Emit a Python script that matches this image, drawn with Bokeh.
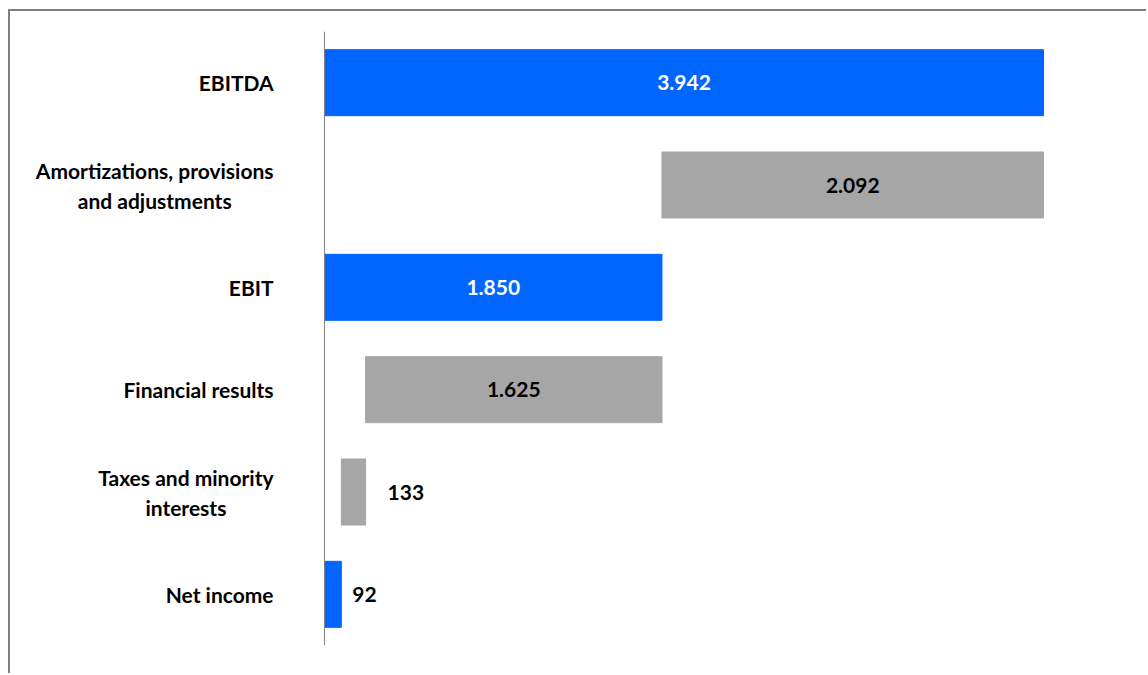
from bokeh.plotting import figure
from bokeh.models import ColumnDataSource, Range1d, FactorRange, Span
from bokeh.core.properties import value
from bokeh.embed import file_html
from bokeh.resources import INLINE

# ---- data ----
categories = ["EBITDA", "Amortizations, provisions and adjustments", "EBIT",
              "Financial results", "Taxes and minority interests", "Net income"]
tick_labels = ["EBITDA", "Amortizations, provisions\nand adjustments", "EBIT",
               "Financial results", "Taxes and minority\ninterests", "Net income"]
values = [3942, 2092, 1850, 1625, 133, 92]
kinds = ["total", "decrease", "total", "decrease", "decrease", "total"]
value_texts = ["3.942", "2.092", "1.850", "1.625", "133", "92"]
label_inside = [True, True, True, True, False, False]
label_offsets = [0, 0, 0, 0, 22, 11]

BLUE = "#0066FF"
GRAY = "#A6A6A6"
FONT = "Lato"

# waterfall geometry
lefts, rights, colors = [], [], []
running = 0
for v, k in zip(values, kinds):
    if k == "total":
        lefts.append(0); rights.append(v); running = v; colors.append(BLUE)
    else:
        lefts.append(running - v); rights.append(running); running -= v; colors.append(GRAY)

lab_x, lab_align, lab_color = [], [], []
for l, r, inside, c in zip(lefts, rights, label_inside, colors):
    if inside:
        lab_x.append((l + r) / 2); lab_align.append("center")
        lab_color.append("white" if c == BLUE else "black")
    else:
        lab_x.append(r); lab_align.append("left"); lab_color.append("black")

src = ColumnDataSource(dict(cat=categories, left=lefts, right=rights, color=colors,
                            lx=lab_x, lalign=lab_align, lcolor=lab_color,
                            ltext=value_texts, loff=label_offsets))
cat_src = ColumnDataSource(dict(cat=categories, name=tick_labels,
                                zero=[0] * len(categories)))

p = figure(width=1138, height=664, output_backend="svg", toolbar_location=None,
           y_range=FactorRange(*reversed(categories), range_padding=0),
           x_range=Range1d(-1722, 4408),
           min_border_left=0, min_border_right=20, min_border_top=20, min_border_bottom=30,
           margin=(9, 0, 0, 8))
p.styles = {"border-top": "2px solid #808080", "border-left": "2px solid #808080"}

p.hbar(y="cat", left="left", right="right", height=0.645, color="color", source=src)
p.text(x="lx", y="cat", text="ltext", text_align="lalign", text_baseline="middle",
       text_color="lcolor", x_offset="loff", text_font=value(FONT),
       text_font_style="bold", text_font_size="21px", source=src)

# category labels (right-anchored block, centred lines)
p.text(x="zero", y="cat", text="name", anchor="center_right", text_align="center",
       text_baseline="middle", x_offset=-51, text_color="black", text_font=value(FONT),
       text_font_style="bold", text_font_size="21px", text_line_height=1.2, source=cat_src)

# category axis line
p.add_layout(Span(location=0, dimension="height", line_color="#808080", line_width=1))

p.axis.visible = False
p.grid.visible = False
p.outline_line_color = None

open("out.html", "w").write(file_html(p, INLINE))
